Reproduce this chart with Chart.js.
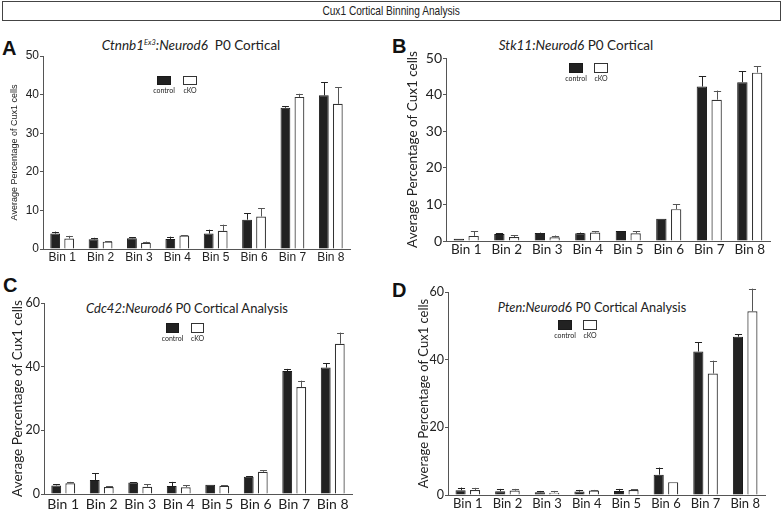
<!DOCTYPE html>
<html>
<head>
<meta charset="utf-8">
<script src="https://cdn.jsdelivr.net/npm/chart.js@4.4.1/dist/chart.umd.min.js"></script>
<style>
    body { margin: 0; background: #fff; width: 783px; height: 511px; overflow: hidden; position: relative; }
    canvas { position: absolute; }
    .head { position: absolute; left: 2px; top: 1px; width: 777px; height: 18px; border: 1.5px solid #444;
            font: 13px "Liberation Sans", sans-serif; color: #222;
            text-align: center; line-height: 18px; }
    .head span { display: inline-block; transform: scaleX(0.78); }
    .letter { position: absolute; font: bold 20px "Liberation Sans", Arial, sans-serif; line-height: 1; color: #111; }
    .ptitle { position: absolute; font-family: Lato, sans-serif; color: #222; text-align: center; white-space: nowrap; line-height: 1; }
    .ptitle sup { font-size: 0.55em; vertical-align: 0.7em; }
</style>
</head>
<body>
<div class="head"><span>Cux1 Cortical Binning Analysis</span></div>

<div class="letter" style="left:2px; top:38px">A</div>
<div class="letter" style="left:392px; top:36px">B</div>
<div class="letter" style="left:3px; top:275px">C</div>
<div class="letter" style="left:392px; top:280px">D</div>

<div class="ptitle" style="left:91px; width:200px; top:39px; font-size:13.5px"><i>Ctnnb1<sup>Ex3</sup>:Neurod6</i>&nbsp; P0 Cortical</div>
<div class="ptitle" style="left:476px; width:200px; top:39px; font-size:13.5px"><i>Stk11:Neurod6</i> P0 Cortical</div>
<div class="ptitle" style="left:67px; width:240px; top:302px; font-size:13px"><i>Cdc42:Neurod6</i> P0 Cortical Analysis</div>
<div class="ptitle" style="left:472px; width:240px; top:301px; font-size:12.8px"><i>Pten:Neurod</i>6 P0 Cortical Analysis</div>

<canvas id="chartA" width="390" height="244" style="left:0; top:22px"></canvas>
<canvas id="chartB" width="393" height="240" style="left:390px; top:22px"></canvas>
<canvas id="chartC" width="390" height="249" style="left:0; top:262px"></canvas>
<canvas id="chartD" width="393" height="249" style="left:390px; top:262px"></canvas>

<script>
const bins = ['Bin 1', 'Bin 2', 'Bin 3', 'Bin 4', 'Bin 5', 'Bin 6', 'Bin 7', 'Bin 8'];

// A - Ctnnb1 Ex3
const ctnnbControl = [4.0, 2.5, 2.8, 2.6, 4.0, 7.6, 36.6, 39.8];
const ctnnbControlErr = [0.5, 0.4, 0.3, 0.6, 1.0, 1.7, 0.4, 3.4];
const ctnnbCko = [2.7, 1.9, 1.6, 3.5, 4.7, 8.4, 39.4, 37.6];
const ctnnbCkoErr = [0.7, 0.1, 0.3, 0.1, 1.6, 2.2, 0.8, 4.3];

// B - Stk11
const stk11Control = [0.6, 1.9, 2.2, 2.1, 2.7, 6.1, 42.2, 43.4];
const stk11ControlErr = [0, 0.2, 0.1, 0.2, 0, 0, 2.8, 3.0];
const stk11Cko = [1.4, 1.1, 1.0, 2.3, 2.1, 8.7, 38.6, 46.0];
const stk11CkoErr = [1.3, 0.5, 0.5, 0.3, 0.5, 1.3, 2.5, 1.7];

// C - Cdc42
const cdc42Control = [2.7, 4.4, 3.6, 2.5, 2.9, 5.4, 38.6, 39.7];
const cdc42ControlErr = [0.3, 2.1, 0.1, 1.3, 0, 0.1, 0.7, 1.3];
const cdc42Cko = [3.4, 2.2, 2.3, 2.1, 2.6, 7.0, 33.6, 47.2];
const cdc42CkoErr = [0.4, 0.2, 0.7, 0.6, 0.1, 0.4, 2.0, 3.5];

// D - Pten
const ptenControl = [1.4, 1.1, 0.8, 1.0, 1.2, 6.0, 42.4, 46.8];
const ptenControlErr = [0.8, 0.7, 0.4, 0.5, 0.6, 2.1, 2.7, 0.7];
const ptenCko = [1.5, 1.3, 0.7, 1.3, 1.5, 3.8, 35.9, 54.3];
const ptenCkoErr = [0.6, 0.5, 0.5, 0.2, 0.2, 0, 3.8, 6.7];

const yTitle = 'Average Percentage of Cux1 cells';

// one-sided (upper) error bars
const errorBars = {
    id: 'errorBars',
    afterDatasetsDraw: function (chart) {
        const ctx = chart.ctx;
        const y = chart.scales.y;
        ctx.save();
        ctx.lineWidth = 1;
        chart.data.datasets.forEach(function (ds, i) {
            const meta = chart.getDatasetMeta(i);
            meta.data.forEach(function (bar, j) {
                const err = ds.errors[j];
                if (!err) return;
                const top = y.getPixelForValue(ds.data[j] + err);
                const x = Math.round(bar.x) + 0.5;
                const half = bar.width * 0.35;
                ctx.strokeStyle = ds.errColor;
                ctx.beginPath();
                ctx.moveTo(x, bar.y);
                ctx.lineTo(x, top);
                ctx.moveTo(x - half, Math.round(top) + 0.5);
                ctx.lineTo(x + half, Math.round(top) + 0.5);
                ctx.stroke();
            });
        });
        ctx.restore();
    }
};

// small boxed legend near the top of each panel
const binLegend = {
    id: 'binLegend',
    afterDraw: function (chart, args, opts) {
        const ctx = chart.ctx;
        ctx.save();
        chart.data.datasets.forEach(function (ds, i) {
            const x = opts.x + i * opts.step;
            ctx.fillStyle = ds.backgroundColor;
            ctx.fillRect(x, opts.y, opts.w, opts.h);
            ctx.strokeStyle = ds.borderColor;
            ctx.lineWidth = 1;
            ctx.strokeRect(x + 0.5, opts.y + 0.5, opts.w - 1, opts.h - 1);
            ctx.fillStyle = '#222';
            ctx.font = opts.fontSize + 'px Lato';
            ctx.textAlign = 'center';
            ctx.textBaseline = 'top';
            ctx.fillText(ds.label, x + opts.w / 2, opts.y + opts.h + 2);
        });
        ctx.restore();
    }
};

function drawPanel(id, control, controlErr, cko, ckoErr, look) {
    const data = {
        labels: bins,
        datasets: [{
            label: 'control',
            data: control,
            errors: controlErr,
            backgroundColor: '#222222',
            borderColor: '#1a1a1a',
            errColor: '#222',
            borderWidth: 1,
            categoryPercentage: 0.73,
            barPercentage: 0.7
        },
        {
            label: 'cKO',
            data: cko,
            errors: ckoErr,
            backgroundColor: '#ffffff',
            borderColor: '#333333',
            errColor: '#555',
            borderWidth: 1.2,
            categoryPercentage: 0.73,
            barPercentage: 0.7
        }]
    };

    const config = {
        type: 'bar',
        data: data,
        options: {
            responsive: false,
            animation: false,
            devicePixelRatio: 1,
            layout: {
                padding: { top: look.padTop, right: look.padRight, left: 0, bottom: 0 }
            },
            plugins: {
                legend: { display: false },
                tooltip: { enabled: false },
                binLegend: look.legend
            },
            scales: {
                x: {
                    afterFit: function (scale) { scale.height = look.xHeight; },
                    grid: { drawOnChartArea: false, drawTicks: false },
                    border: { color: '#555', width: 1 },
                    ticks: {
                        color: '#222',
                        padding: look.xPad,
                        font: { family: look.font, size: look.xSize }
                    }
                },
                y: {
                    min: 0,
                    max: look.yMax,
                    afterFit: function (scale) { scale.width = look.yWidth; },
                    grid: { drawOnChartArea: false, drawTicks: true, tickLength: 3, color: '#555' },
                    border: { color: '#555', width: 1 },
                    ticks: {
                        stepSize: look.yStep,
                        color: '#222',
                        padding: 1,
                        font: { family: look.font, size: look.ySize }
                    },
                    title: {
                        display: true,
                        text: yTitle,
                        color: '#222',
                        padding: { top: look.titlePad, bottom: 0 },
                        font: { family: look.font, size: look.titleSize }
                    }
                }
            }
        },
        plugins: [errorBars, binLegend]
    };

    return new Chart(document.getElementById(id), config);
}

drawPanel('chartA', ctnnbControl, ctnnbControlErr, ctnnbCko, ctnnbCkoErr, {
    font: 'Liberation Sans', xSize: 12, ySize: 12, titleSize: 9, titlePad: 9.5,
    yMax: 50, yStep: 10, yWidth: 43, xHeight: 17, padTop: 34, padRight: 40, xPad: 1,
    legend: { x: 157, y: 54, w: 14, h: 9, step: 26, fontSize: 7 }
});

drawPanel('chartB', stk11Control, stk11ControlErr, stk11Cko, stk11CkoErr, {
    font: 'Lato', xSize: 13.5, ySize: 14, titleSize: 13.5, titlePad: 15,
    yMax: 50, yStep: 10, yWidth: 56, xHeight: 21, padTop: 36, padRight: 13, xPad: 1,
    legend: { x: 179, y: 41, w: 14, h: 10, step: 25, fontSize: 7 }
});

drawPanel('chartC', cdc42Control, cdc42ControlErr, cdc42Cko, cdc42CkoErr, {
    font: 'Lato', xSize: 14, ySize: 12.5, titleSize: 13.5, titlePad: 10,
    yMax: 60, yStep: 20, yWidth: 44, xHeight: 17, padTop: 41, padRight: 38, xPad: 2,
    legend: { x: 166, y: 61, w: 13, h: 10, step: 25, fontSize: 7 }
});

drawPanel('chartD', ptenControl, ptenControlErr, ptenCko, ptenCkoErr, {
    font: 'Lato', xSize: 13, ySize: 12.5, titleSize: 13, titlePad: 26,
    yMax: 60, yStep: 20, yWidth: 58, xHeight: 16, padTop: 30, padRight: 18, xPad: 1,
    legend: { x: 168, y: 58, w: 14, h: 10, step: 25, fontSize: 7 }
});
</script>
</body>
</html>
